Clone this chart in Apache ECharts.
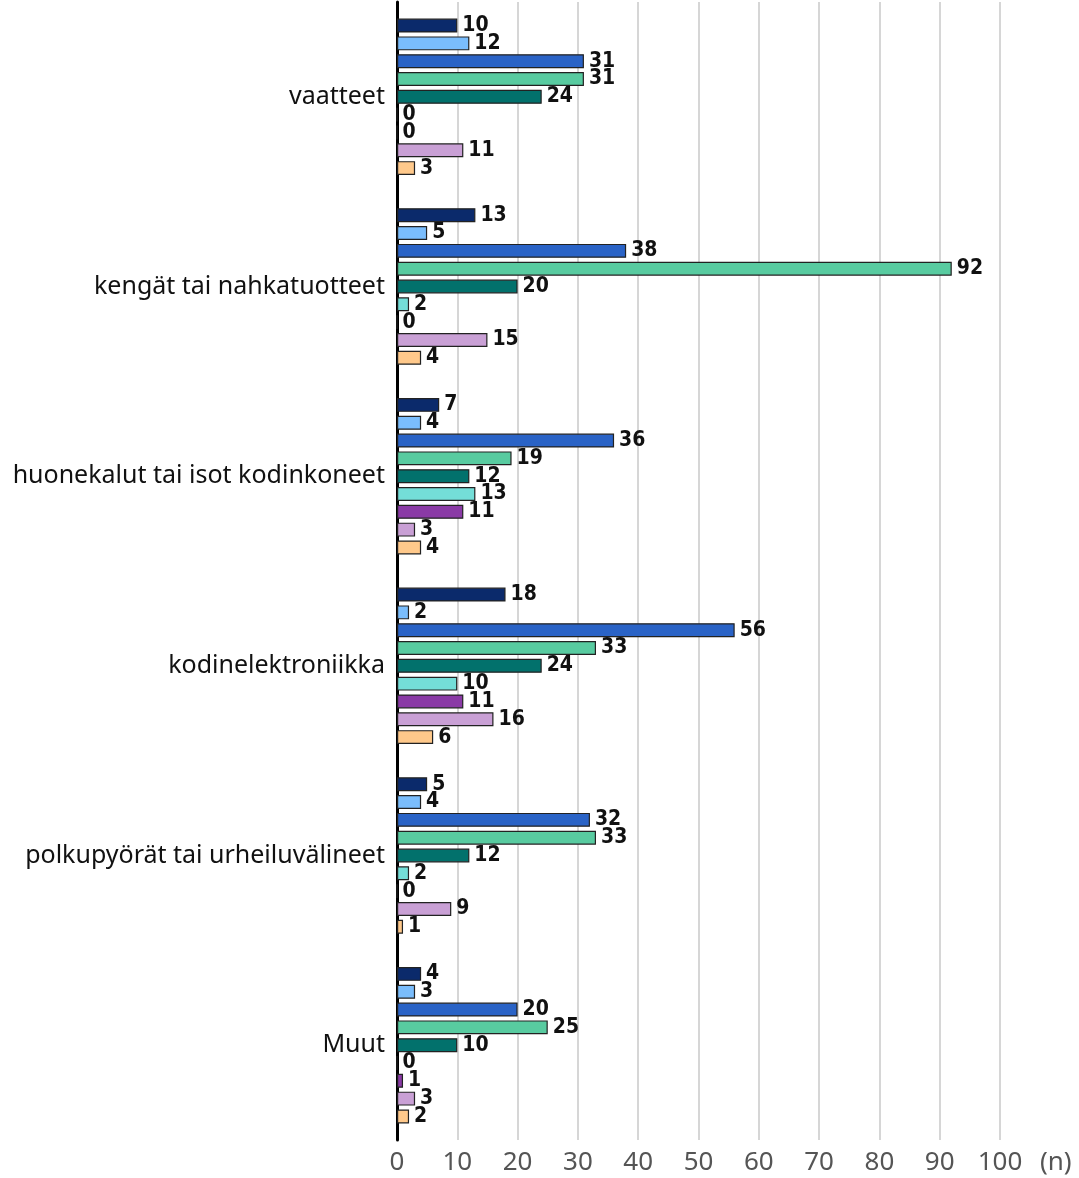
<!DOCTYPE html>
<html>
<head>
<meta charset="utf-8">
<script src="https://cdn.jsdelivr.net/npm/echarts@6/dist/echarts.min.js"></script>
<style>
html,body{margin:0;padding:0;background:#fff;}
#chart{width:1079px;height:1178px;}
</style>
</head>
<body>
<div id="chart"></div>
<script>
var categories=['vaatteet','kengät tai nahkatuotteet','huonekalut tai isot kodinkoneet','kodinelektroniikka','polkupyörät tai urheiluvälineet','Muut'];
var s1=[10,13,7,18,5,4];
var s2=[12,5,4,2,4,3];
var s3=[31,38,36,56,32,20];
var s4=[31,92,19,33,33,25];
var s5=[24,20,12,24,12,10];
var s6=[0,2,13,10,2,0];
var s7=[0,0,11,11,0,1];
var s8=[11,15,3,16,9,3];
var s9=[3,4,4,6,1,2];
var xTicks=[0,100,10];   // min, max, interval

var colors=['#0b2a6b','#7abdfc','#2a63c6','#58cba0','#02716c','#74ded8','#8a3aa6','#c9a0d5','#ffc98b'];
var allData=[s1,s2,s3,s4,s5,s6,s7,s8,s9];

var series=[];
for(var i=0;i<allData.length;i++){
	series.push({
		name:'s'+(i+1),
		type:'bar',
		data:allData[i],
		barGap:'28%',
		barCategoryGap:'17.5%',
		itemStyle:{color:colors[i],borderColor:'#222',borderWidth:1.2},
		label:{
			show:true,
			position:'right',
			distance:5,
			color:'#111',
			fontFamily:"'DejaVu Sans Condensed', 'Noto Sans', sans-serif",
			fontWeight:'bold',
			fontSize:21
		}
	});
}

var option={
	animation:false,
	grid:{left:397,right:79,top:2,bottom:38,containLabel:false,outerBoundsMode:'none'},
	xAxis:{
		type:'value',
		min:xTicks[0],max:xTicks[1],interval:xTicks[2],
		name:'(n)',
		nameLocation:'end',
		nameGap:40,
		nameTextStyle:{color:'#555',fontSize:26,fontFamily:'Noto Sans',verticalAlign:'top',padding:[10,0,0,0]},
		axisLine:{show:false},
		axisTick:{show:false},
		axisLabel:{color:'#555',fontSize:26,fontFamily:'Noto Sans',margin:10},
		splitLine:{show:true,lineStyle:{color:'#d6d6d6',width:2}}
	},
	yAxis:{
		type:'category',
		data:categories,
		inverse:true,
		axisLine:{show:true,lineStyle:{color:'#000',width:3}},
		axisTick:{show:false},
		axisLabel:{color:'#111',fontSize:25,fontFamily:'Noto Sans',margin:12}
	},
	series:series
};
var chart=echarts.init(document.getElementById('chart'));
chart.setOption(option);
</script>
</body>
</html>
